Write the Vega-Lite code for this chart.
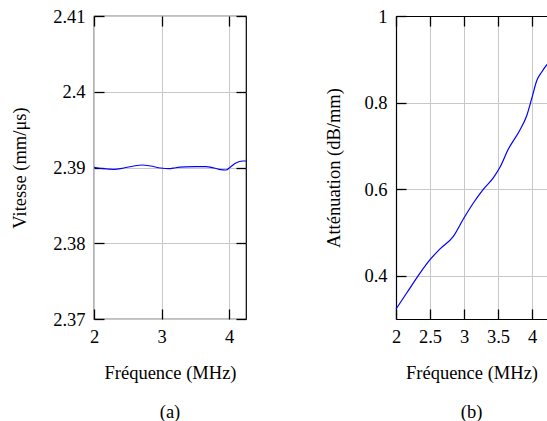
{
  "$schema": "https://vega.github.io/schema/vega-lite/v6.json",
  "padding": {"left": 10, "top": 6, "right": 0, "bottom": 0},
  "bounds": "flush",
  "spacing": 150,
  "config": {
    "font": "'Liberation Serif', 'Times New Roman', Times, serif",
    "view": {"stroke": "black", "strokeWidth": 1.2},
    "axis": {
      "labelFont": "'Liberation Serif', 'Times New Roman', Times, serif",
      "labelFontSize": 18.5,
      "labelColor": "black",
      "titleFont": "'Liberation Serif', 'Times New Roman', Times, serif",
      "titleFontSize": 18.5,
      "titleFontWeight": "normal",
      "titleColor": "black",
      "tickSize": -10,
      "tickColor": "black",
      "tickWidth": 1.3,
      "gridColor": "#c8c8c8",
      "gridWidth": 1,
      "gridOpacity": 1,
      "domain": false,
      "format": "~g",
      "labelFlush": false,
      "labelOverlap": false
    },
    "axisX": {"labelPadding": 18},
    "axisY": {"labelPadding": 19},
    "title": {"font": "'Liberation Serif', 'Times New Roman', Times, serif", "fontSize": 18.5, "fontWeight": "normal", "color": "black"}
  },
  "datasets": {
    "vitesse": [
      {"f": 2.0, "v": 2.39003},
      {"f": 2.143, "v": 2.38984},
      {"f": 2.291, "v": 2.38976},
      {"f": 2.44, "v": 2.38993},
      {"f": 2.588, "v": 2.3902},
      {"f": 2.713, "v": 2.39033},
      {"f": 2.837, "v": 2.3902},
      {"f": 2.985, "v": 2.38993},
      {"f": 3.108, "v": 2.38984},
      {"f": 3.208, "v": 2.38997},
      {"f": 3.357, "v": 2.39007},
      {"f": 3.505, "v": 2.39011},
      {"f": 3.654, "v": 2.39011},
      {"f": 3.777, "v": 2.38993},
      {"f": 3.877, "v": 2.38971},
      {"f": 3.951, "v": 2.38967},
      {"f": 4.025, "v": 2.39011},
      {"f": 4.1, "v": 2.39059},
      {"f": 4.2, "v": 2.39086},
      {"f": 4.25, "v": 2.39086}
    ],
    "attenuation": [
      {"f": 2.0, "a": 0.323},
      {"f": 2.157, "a": 0.36},
      {"f": 2.353, "a": 0.406},
      {"f": 2.5, "a": 0.437},
      {"f": 2.647, "a": 0.462},
      {"f": 2.843, "a": 0.491},
      {"f": 2.99, "a": 0.531},
      {"f": 3.137, "a": 0.568},
      {"f": 3.28, "a": 0.599},
      {"f": 3.43, "a": 0.626},
      {"f": 3.53, "a": 0.651},
      {"f": 3.65, "a": 0.692},
      {"f": 3.82, "a": 0.736},
      {"f": 3.92, "a": 0.769},
      {"f": 4.0, "a": 0.812},
      {"f": 4.07, "a": 0.851},
      {"f": 4.14, "a": 0.87},
      {"f": 4.22, "a": 0.888}
    ]
  },
  "hconcat": [
    {
      "width": 152,
      "height": 303,
      "title": {"text": "(a)", "orient": "bottom", "offset": 21},
      "data": {"name": "vitesse"},
      "layer": [
        {
          "mark": {"type": "line", "color": "#0000ff", "strokeWidth": 1.2, "interpolate": "monotone"},
          "encoding": {
            "x": {"field": "f", "type": "quantitative", "scale": {"domain": [2, 4.25], "nice": false, "zero": false},
                  "axis": {"values": [2, 3, 4], "title": "Fréquence (MHz)", "grid": true, "titlePadding": 18}},
            "y": {"field": "v", "type": "quantitative", "scale": {"domain": [2.37, 2.41], "nice": false, "zero": false},
                  "axis": {"values": [2.37, 2.38, 2.39, 2.4, 2.41], "title": "Vitesse (mm/μs)", "grid": true, "titlePadding": 23}}
          }
        },
        {
          "mark": {"type": "line", "opacity": 0},
          "encoding": {
            "x": {"field": "f", "type": "quantitative", "axis": {"orient": "top", "values": [2, 3, 4], "labels": false, "title": null, "grid": false}},
            "y": {"field": "v", "type": "quantitative", "axis": {"orient": "right", "values": [2.37, 2.38, 2.39, 2.4, 2.41], "labels": false, "title": null, "grid": false}}
          }
        }
      ],
      "resolve": {"axis": {"x": "independent", "y": "independent"}}
    },
    {
      "width": 151,
      "height": 303,
      "view": {"stroke": null},
      "title": {"text": "(b)", "orient": "bottom", "offset": 21},
      "data": {"name": "attenuation"},
      "layer": [
        {
          "mark": {"type": "line", "color": "#0000ff", "strokeWidth": 1.2, "interpolate": "monotone"},
          "encoding": {
            "x": {"field": "f", "type": "quantitative", "scale": {"domain": [2, 4.22], "nice": false, "zero": false},
                  "axis": {"values": [2, 2.5, 3, 3.5, 4], "title": "Fréquence (MHz)", "grid": true, "domain": true, "domainColor": "black", "domainWidth": 1.2, "titlePadding": 18}},
            "y": {"field": "a", "type": "quantitative", "scale": {"domain": [0.3, 1], "nice": false, "zero": false},
                  "axis": {"values": [0.4, 0.6, 0.8, 1], "title": "Atténuation (dB/mm)", "grid": true, "domain": true, "domainColor": "black", "domainWidth": 1.2, "titlePadding": 20}}
          }
        },
        {
          "mark": {"type": "line", "opacity": 0},
          "encoding": {
            "x": {"field": "f", "type": "quantitative", "axis": {"orient": "top", "values": [2, 2.5, 3, 3.5, 4], "labels": false, "title": null, "grid": false, "domain": true, "domainColor": "black", "domainWidth": 1.2}}
          }
        }
      ],
      "resolve": {"axis": {"x": "independent"}}
    }
  ]
}
